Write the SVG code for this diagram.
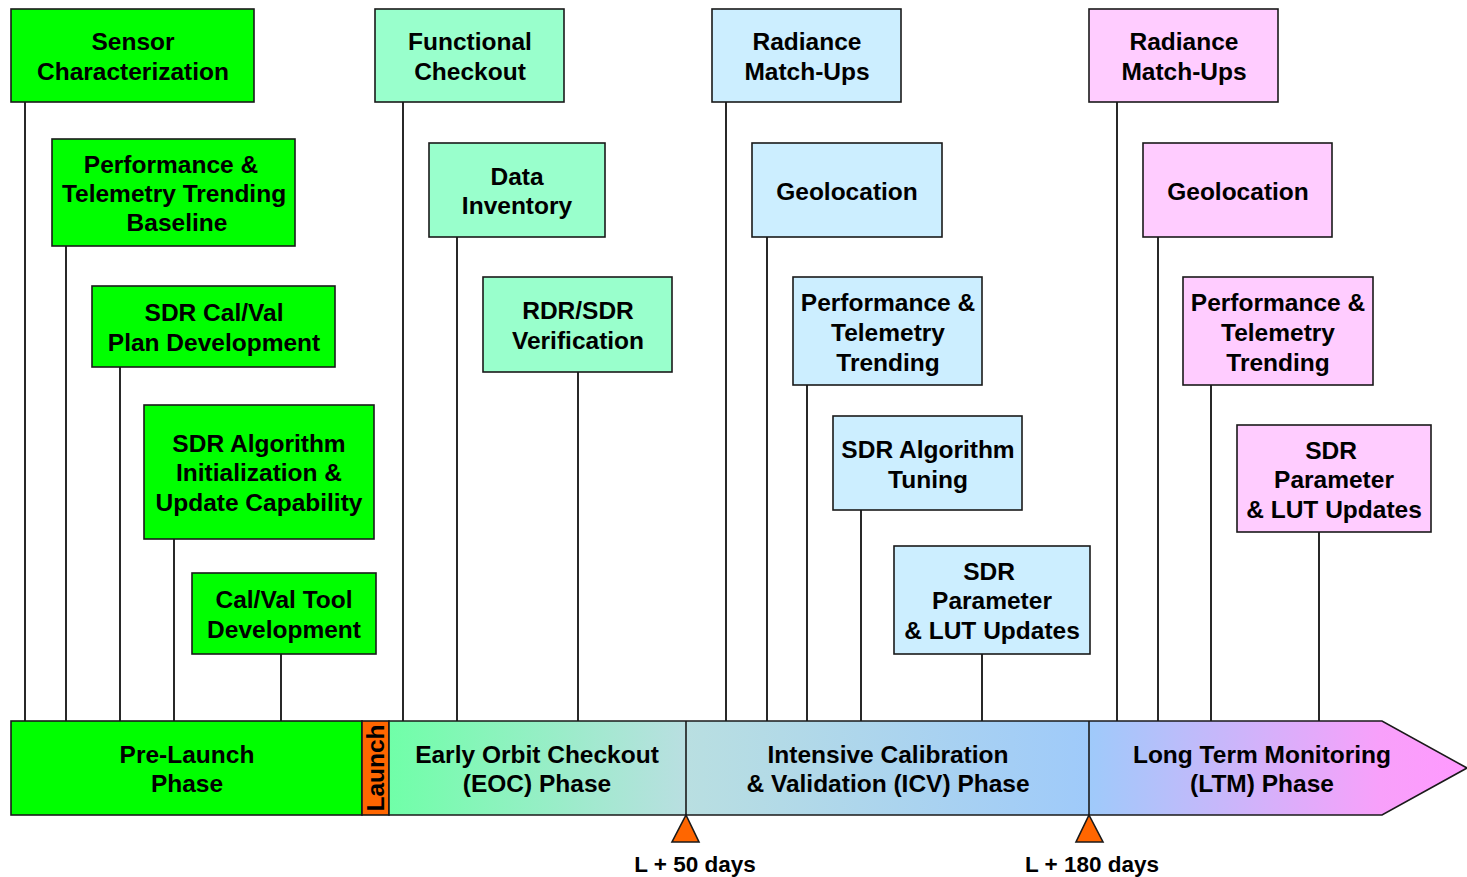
<svg xmlns="http://www.w3.org/2000/svg" width="1467" height="877" viewBox="0 0 1467 877">
  <defs>
    <linearGradient id="phaseGrad" gradientUnits="userSpaceOnUse" x1="389" y1="0" x2="1467" y2="0">
      <stop offset="0" stop-color="#70ffa8"/>
      <stop offset="0.275" stop-color="#b9dfe1"/>
      <stop offset="0.65" stop-color="#9fcafa"/>
      <stop offset="0.92" stop-color="#f8a0fa"/>
      <stop offset="1" stop-color="#ff99ff"/>
    </linearGradient>
    <style>
      .box { stroke: #1a1a1a; stroke-width: 1.6; }
      .g { fill: #00ff00; }
      .m { fill: #99ffcc; }
      .b { fill: #cceeff; }
      .p { fill: #ffccff; }
      .t { font-family: "Liberation Sans", Arial, sans-serif; font-weight: bold; font-size: 24.5px; fill: #000; text-anchor: middle; }
      .ms { font-size: 22.5px; }
      .conn line { stroke: #111; stroke-width: 1.8; }
      .tri { fill: #ff6600; stroke: #1a1a1a; stroke-width: 1.6; }
    </style>
  </defs>

  <rect width="1467" height="877" fill="#ffffff"/>

  <!-- connectors: each activity drops to the phase bar -->
  <g id="connectors" class="conn">
    <line x1="25" y1="102" x2="25" y2="721"/>
    <line x1="66" y1="246" x2="66" y2="721"/>
    <line x1="120" y1="367" x2="120" y2="721"/>
    <line x1="174" y1="539" x2="174" y2="721"/>
    <line x1="281" y1="654" x2="281" y2="721"/>
    <line x1="403" y1="102" x2="403" y2="721"/>
    <line x1="457" y1="237" x2="457" y2="721"/>
    <line x1="578" y1="372" x2="578" y2="721"/>
    <line x1="726" y1="102" x2="726" y2="721"/>
    <line x1="767" y1="237" x2="767" y2="721"/>
    <line x1="807" y1="385" x2="807" y2="721"/>
    <line x1="861" y1="507" x2="861" y2="721"/>
    <line x1="982" y1="654" x2="982" y2="721"/>
    <line x1="1117" y1="102" x2="1117" y2="721"/>
    <line x1="1158" y1="237" x2="1158" y2="721"/>
    <line x1="1211" y1="385" x2="1211" y2="721"/>
    <line x1="1319" y1="532" x2="1319" y2="721"/>
  </g>

  <!-- pre-launch activities -->
  <g id="sensor-characterization">
    <rect class="box g" x="11" y="9" width="243" height="93"/>
    <text class="t" x="133" y="50">Sensor</text>
    <text class="t" x="133" y="80">Characterization</text>
  </g>
  <g id="perf-trending-baseline">
    <rect class="box g" x="52" y="139" width="243" height="107"/>
    <text class="t" x="171" y="173">Performance &amp;</text>
    <text class="t" x="174" y="202">Telemetry Trending</text>
    <text class="t" x="177" y="231">Baseline</text>
  </g>
  <g id="calval-plan">
    <rect class="box g" x="92" y="286" width="243" height="81"/>
    <text class="t" x="214" y="321">SDR Cal/Val</text>
    <text class="t" x="214" y="351">Plan Development</text>
  </g>
  <g id="algorithm-init">
    <rect class="box g" x="144" y="405" width="230" height="134"/>
    <text class="t" x="259" y="452">SDR Algorithm</text>
    <text class="t" x="259" y="481">Initialization &amp;</text>
    <text class="t" x="259" y="511">Update Capability</text>
  </g>
  <g id="calval-tool">
    <rect class="box g" x="192" y="573" width="184" height="81"/>
    <text class="t" x="284" y="608">Cal/Val Tool</text>
    <text class="t" x="284" y="638">Development</text>
  </g>

  <!-- early orbit checkout activities -->
  <g id="functional-checkout">
    <rect class="box m" x="375" y="9" width="189" height="93"/>
    <text class="t" x="470" y="50">Functional</text>
    <text class="t" x="470" y="80">Checkout</text>
  </g>
  <g id="data-inventory">
    <rect class="box m" x="429" y="143" width="176" height="94"/>
    <text class="t" x="517" y="185">Data</text>
    <text class="t" x="517" y="214">Inventory</text>
  </g>
  <g id="rdr-sdr-verification">
    <rect class="box m" x="483" y="277" width="189" height="95"/>
    <text class="t" x="578" y="319">RDR/SDR</text>
    <text class="t" x="578" y="349">Verification</text>
  </g>

  <!-- intensive cal/val activities -->
  <g id="icv-radiance">
    <rect class="box b" x="712" y="9" width="189" height="93"/>
    <text class="t" x="807" y="50">Radiance</text>
    <text class="t" x="807" y="80">Match-Ups</text>
  </g>
  <g id="icv-geolocation">
    <rect class="box b" x="752" y="143" width="190" height="94"/>
    <text class="t" x="847" y="200">Geolocation</text>
  </g>
  <g id="icv-perf-trending">
    <rect class="box b" x="793" y="277" width="189" height="108"/>
    <text class="t" x="888" y="311">Performance &amp;</text>
    <text class="t" x="888" y="341">Telemetry</text>
    <text class="t" x="888" y="371">Trending</text>
  </g>
  <g id="icv-algorithm-tuning">
    <rect class="box b" x="833" y="416" width="189" height="94"/>
    <text class="t" x="928" y="458">SDR Algorithm</text>
    <text class="t" x="928" y="488">Tuning</text>
  </g>
  <g id="icv-lut-updates">
    <rect class="box b" x="894" y="546" width="196" height="108"/>
    <text class="t" x="989" y="580">SDR</text>
    <text class="t" x="992" y="609">Parameter</text>
    <text class="t" x="992" y="639">&amp; LUT Updates</text>
  </g>

  <!-- long term monitoring activities -->
  <g id="ltm-radiance">
    <rect class="box p" x="1089" y="9" width="189" height="93"/>
    <text class="t" x="1184" y="50">Radiance</text>
    <text class="t" x="1184" y="80">Match-Ups</text>
  </g>
  <g id="ltm-geolocation">
    <rect class="box p" x="1143" y="143" width="189" height="94"/>
    <text class="t" x="1238" y="200">Geolocation</text>
  </g>
  <g id="ltm-perf-trending">
    <rect class="box p" x="1183" y="277" width="190" height="108"/>
    <text class="t" x="1278" y="311">Performance &amp;</text>
    <text class="t" x="1278" y="341">Telemetry</text>
    <text class="t" x="1278" y="371">Trending</text>
  </g>
  <g id="ltm-lut-updates">
    <rect class="box p" x="1237" y="425" width="194" height="107"/>
    <text class="t" x="1331" y="459">SDR</text>
    <text class="t" x="1334" y="488">Parameter</text>
    <text class="t" x="1334" y="518">&amp; LUT Updates</text>
  </g>

  <!-- phase bar -->
  <g id="phase-prelaunch">
    <rect class="box g" x="11" y="721" width="351" height="94"/>
    <text class="t" x="187" y="763">Pre-Launch</text>
    <text class="t" x="187" y="792">Phase</text>
  </g>
  <g id="phase-launch">
    <rect x="362" y="721" width="27" height="94" fill="#ff6600" stroke="#1a1a1a" stroke-width="1.6"/>
    <text class="t" transform="translate(384 768) rotate(-90)" x="0" y="0">Launch</text>
  </g>
  <g id="phase-postlaunch">
    <path d="M389 721 H1382 L1467 768 L1382 815 H389 Z" fill="url(#phaseGrad)" stroke="#1a1a1a" stroke-width="1.6"/>
    <line x1="686" y1="721" x2="686" y2="815" stroke="#1a1a1a" stroke-width="1.6"/>
    <line x1="1089" y1="721" x2="1089" y2="815" stroke="#1a1a1a" stroke-width="1.6"/>
    <text class="t" x="537" y="763">Early Orbit Checkout</text>
    <text class="t" x="537" y="792">(EOC) Phase</text>
    <text class="t" x="888" y="763">Intensive Calibration</text>
    <text class="t" x="888" y="792">&amp; Validation (ICV) Phase</text>
    <text class="t" x="1262" y="763">Long Term Monitoring</text>
    <text class="t" x="1262" y="792">(LTM) Phase</text>
  </g>

  <!-- milestones -->
  <g id="milestone-50">
    <polygon class="tri" points="686,815 699,842 672,842"/>
    <text class="t ms" x="695" y="872">L + 50 days</text>
  </g>
  <g id="milestone-180">
    <polygon class="tri" points="1089,815 1103,842 1076,842"/>
    <text class="t ms" x="1092" y="872">L + 180 days</text>
  </g>
</svg>
